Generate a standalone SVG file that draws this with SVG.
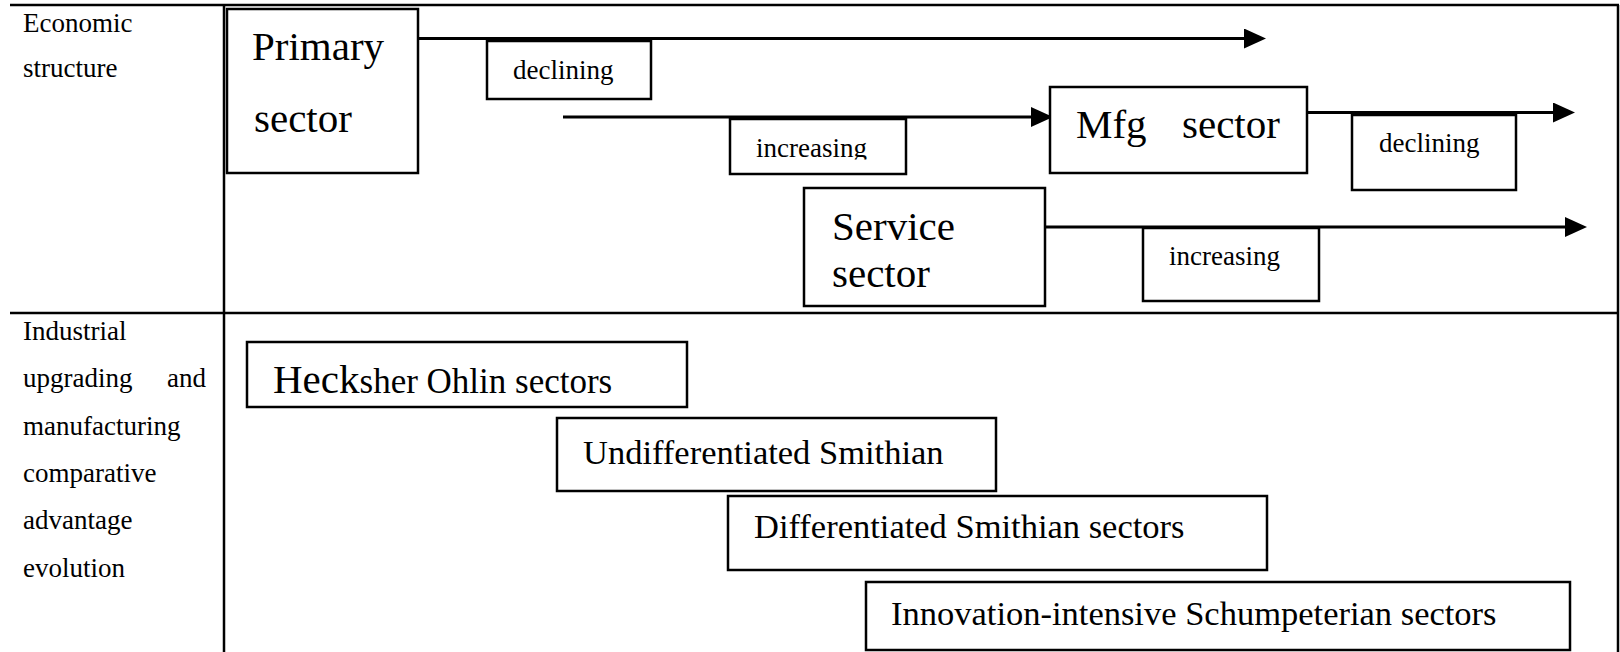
<svg xmlns="http://www.w3.org/2000/svg" width="1620" height="652" viewBox="0 0 1620 652" font-family="'Liberation Serif', 'DejaVu Serif', serif">
<style>
text{font-family:'Liberation Serif','DejaVu Serif',serif;fill:#000}
.lbl{font-size:27px}
.big{font-size:41px}
.mid{font-size:34.5px}
.grid{stroke:#000;stroke-width:2.5;fill:none}
.box{fill:#fff;stroke:#000;stroke-width:2.5}
.arr{stroke:#000;stroke-width:3;fill:none;marker-end:url(#ah)}
</style>
<defs>
<marker id="ah" markerUnits="userSpaceOnUse" markerWidth="22" markerHeight="20" refX="11" refY="10" orient="auto">
<path d="M0,0 L22,10 L0,20 Z" fill="#000"/>
</marker>
<clipPath id="clipInc"><rect x="730" y="119" width="176" height="40.5"/></clipPath>
</defs>
<rect width="1620" height="652" fill="#fff"/>
<g id="table">
<line class="grid" x1="10" y1="5" x2="1619" y2="5"/>
<line class="grid" x1="10" y1="313" x2="1619" y2="313"/>
<line class="grid" x1="224" y1="5" x2="224" y2="652"/>
<line class="grid" x1="1618" y1="5" x2="1618" y2="652"/>
<text class="lbl" x="23" y="32">Economic</text>
<text class="lbl" x="23" y="77">structure</text>
<text class="lbl" x="23" y="340">Industrial</text>
<text class="lbl" x="23" y="387">upgrading</text>
<text class="lbl" x="206" y="387" text-anchor="end">and</text>
<text class="lbl" x="23" y="435">manufacturing</text>
<text class="lbl" x="23" y="482">comparative</text>
<text class="lbl" x="23" y="529">advantage</text>
<text class="lbl" x="23" y="577">evolution</text>
</g>
<g id="connectors">
<line class="arr" x1="418" y1="38.5" x2="1255" y2="38.5"/>
<line class="arr" x1="563" y1="117" x2="1042" y2="117"/>
<line class="arr" x1="1307" y1="112.5" x2="1564" y2="112.5"/>
<line class="arr" x1="1045" y1="227" x2="1576" y2="227"/>
</g>
<g id="primary">
<rect class="box" x="227" y="9" width="191" height="164" stroke-width="3"/>
<text class="big" x="252" y="60">Primary</text>
<text class="big" x="254" y="132">sector</text>
</g>
<g id="declining1">
<rect class="box" x="487" y="41" width="164" height="58"/>
<text class="lbl" x="513" y="79">declining</text>
</g>
<g id="increasing1">
<rect class="box" x="730" y="119" width="176" height="55"/>
<text class="lbl" x="756" y="157" clip-path="url(#clipInc)">increasing</text>
</g>
<g id="mfg">
<rect class="box" x="1050" y="87" width="257" height="86"/>
<text class="big" y="138"><tspan x="1076">Mfg</tspan><tspan x="1182">sector</tspan></text>
</g>
<g id="declining2">
<rect class="box" x="1352" y="115" width="164" height="75"/>
<text class="lbl" x="1379" y="152">declining</text>
</g>
<g id="service">
<rect class="box" x="804" y="188" width="241" height="118"/>
<text class="big" x="832" y="240">Service</text>
<text class="big" x="832" y="287">sector</text>
</g>
<g id="increasing2">
<rect class="box" x="1143" y="228" width="176" height="73"/>
<text class="lbl" x="1169" y="265">increasing</text>
</g>
<g id="hecksher">
<rect class="box" x="247" y="342" width="440" height="65"/>
<text x="273" y="393"><tspan font-size="41">Heck</tspan><tspan font-size="35">sher Ohlin sectors</tspan></text>
</g>
<g id="undifferentiated">
<rect class="box" x="557" y="418" width="439" height="73"/>
<text class="mid" x="583" y="464">Undifferentiated Smithian</text>
</g>
<g id="differentiated">
<rect class="box" x="728" y="496" width="539" height="74"/>
<text class="mid" x="754" y="538">Differentiated Smithian sectors</text>
</g>
<g id="innovation">
<rect class="box" x="866" y="582" width="704" height="68"/>
<text class="mid" x="891" y="625">Innovation-intensive Schumpeterian sectors</text>
</g>
</svg>
